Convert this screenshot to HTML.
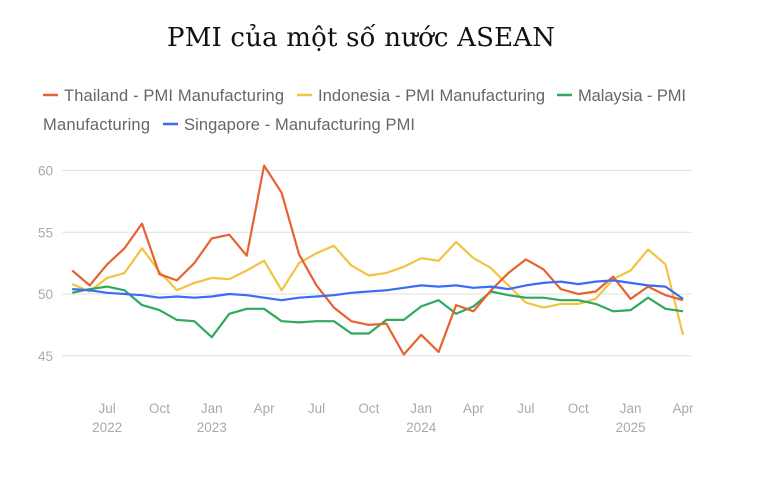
<!DOCTYPE html>
<html><head><meta charset="utf-8"><style>
body{margin:0;background:#fff;width:768px;height:480px;overflow:hidden}
</style></head><body>
<svg id="s" width="768" height="480" xmlns="http://www.w3.org/2000/svg" font-family="Liberation Sans, sans-serif">
<text x="167" y="46" textLength="388" font-family="DejaVu Serif, Liberation Serif, serif" font-size="26" fill="#111">PMI của một số nước ASEAN</text>
<g font-size="16.5" fill="#666">
<line x1="43" y1="95" x2="58" y2="95" stroke="#e8622f" stroke-width="2.5"/><text x="64" y="101" textLength="220">Thailand - PMI Manufacturing</text>
<line x1="297" y1="95" x2="312" y2="95" stroke="#f4c242" stroke-width="2.5"/><text x="318" y="101" textLength="227">Indonesia - PMI Manufacturing</text>
<line x1="557" y1="95" x2="572" y2="95" stroke="#2eaa5c" stroke-width="2.5"/><text x="578" y="101" textLength="108">Malaysia - PMI</text>
<text x="43" y="130" textLength="107">Manufacturing</text>
<line x1="163" y1="124" x2="178" y2="124" stroke="#3a6cf4" stroke-width="2.5"/><text x="184" y="130" textLength="231">Singapore - Manufacturing PMI</text>
</g>
<g id="grid" stroke="#e2e2e2" stroke-width="1"></g>
<g font-size="13.5" fill="#aaa" id="lab"></g>
<g id="lines" fill="none" stroke-width="2.2" stroke-linejoin="round"></g>
</svg>
<script>
const ns="http://www.w3.org/2000/svg";
const yv=v=>294-(v-50)*12.35;
const xv=i=>72.2+i*17.45;
const g=document.getElementById('grid'),lab=document.getElementById('lab'),L=document.getElementById('lines');
function el(p,t,a,txt){const e=document.createElementNS(ns,t);for(const k in a)e.setAttribute(k,a[k]);if(txt)e.textContent=txt;p.appendChild(e);return e;}
[60,55,50,45].forEach(v=>{el(g,'line',{x1:62,x2:692,y1:yv(v),y2:yv(v)});el(lab,'text',{x:53,y:yv(v)+5,'text-anchor':'end'},String(v));});
const ml=["Jul","Oct","Jan","Apr","Jul","Oct","Jan","Apr","Jul","Oct","Jan","Apr"];
ml.forEach((m,k)=>{const x=xv(2+3*k);el(lab,'text',{x:x,y:413,'text-anchor':'middle'},m);});
[[2,"2022"],[8,"2023"],[20,"2024"],[32,"2025"]].forEach(([i,y])=>el(lab,'text',{x:xv(i),y:432,'text-anchor':'middle'},y));
const D={
"#f4c242":[50.8,50.2,51.3,51.7,53.7,51.8,50.3,50.9,51.3,51.2,51.9,52.7,50.3,52.5,53.3,53.9,52.3,51.5,51.7,52.2,52.9,52.7,54.2,52.9,52.1,50.7,49.3,48.9,49.2,49.2,49.6,51.2,51.9,53.6,52.4,46.7],
"#2eaa5c":[50.1,50.4,50.6,50.3,49.1,48.7,47.9,47.8,46.5,48.4,48.8,48.8,47.8,47.7,47.8,47.8,46.8,46.8,47.9,47.9,49.0,49.5,48.4,49.0,50.2,49.9,49.7,49.7,49.5,49.5,49.2,48.6,48.7,49.7,48.8,48.6],
"#e8622f":[51.9,50.7,52.4,53.7,55.7,51.6,51.1,52.5,54.5,54.8,53.1,60.4,58.2,53.2,50.7,48.9,47.8,47.5,47.6,45.1,46.7,45.3,49.1,48.6,50.3,51.7,52.8,52.0,50.4,50.0,50.2,51.4,49.6,50.6,49.9,49.5],
"#3a6cf4":[50.4,50.3,50.1,50.0,49.9,49.7,49.8,49.7,49.8,50.0,49.9,49.7,49.5,49.7,49.8,49.9,50.1,50.2,50.3,50.5,50.7,50.6,50.7,50.5,50.6,50.4,50.7,50.9,51.0,50.8,51.0,51.1,50.9,50.7,50.6,49.6]};
for(const c in D)el(L,'polyline',{stroke:c,points:D[c].map((v,i)=>xv(i).toFixed(1)+","+yv(v).toFixed(1)).join(" ")});
</script>
</body></html>
